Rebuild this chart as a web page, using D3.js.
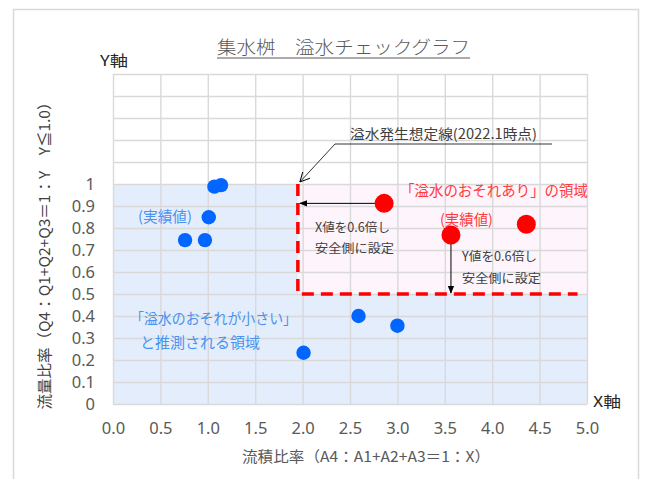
<!DOCTYPE html>
<html><head><meta charset="utf-8">
<script src="https://cdn.jsdelivr.net/npm/d3@7"></script>
<style>
html,body{margin:0;padding:0;background:#fff;}
svg{display:block;}
text{font-family:"Noto Sans CJK JP","Noto Sans",sans-serif;}
</style></head>
<body>
<svg id="c" width="646" height="479"></svg>
<script>
// ---- data ----
const title = "集水桝　溢水チェックグラフ";
const xTitle = "流積比率（A4：A1+A2+A3＝1：X）";
const yTitle = "流量比率（Q4：Q1+Q2+Q3＝1：Y　Y≦1.0）";
const xTicks = [0,0.5,1,1.5,2,2.5,3,3.5,4,4.5,5];
const xTickLabels = ["0.0","0.5","1.0","1.5","2.0","2.5","3.0","3.5","4.0","4.5","5.0"];
const yTicks = [0,0.1,0.2,0.3,0.4,0.5,0.6,0.7,0.8,0.9,1.0,1.1,1.2,1.3,1.4,1.5];
const yTickLabels = ["0","0.1","0.2","0.3","0.4","0.5","0.6","0.7","0.8","0.9","1","","","","",""];
const blueX = [1.07,1.14,1.01,0.76,0.97,2.01,2.59,3.00];
const blueY = [0.988,0.995,0.849,0.745,0.745,0.233,0.40,0.356];
const redX = [2.86,3.565,4.36];
const redY = [0.912,0.768,0.817];
const limitX = [1.95,1.95,4.9];
const limitY = [1.0,0.5,0.5];

// ---- layout ----
const svg = d3.select("#c");
const L=113, R=587, T=74, B=404;
const x = d3.scaleLinear().domain([0,5]).range([L,R]);
const y = d3.scaleLinear().domain([0,1.5]).range([B,T]);

// chart frame
svg.append("rect").attr("x",13.5).attr("y",9.5).attr("width",625).attr("height",480)
  .attr("fill","#fff").attr("stroke","#D9D9D9").attr("stroke-width",1.5);

// regions
svg.append("rect").attr("x",x(0)).attr("y",y(1)).attr("width",x(5)-x(0)).attr("height",y(0)-y(1))
  .attr("fill","#E3EDFC");
svg.append("rect").attr("x",x(limitX[0])).attr("y",y(1)).attr("width",x(5)-x(limitX[0])).attr("height",y(0.5)-y(1))
  .attr("fill","#FDF4FC");

// gridlines
const gx = svg.append("g").attr("transform",`translate(0,${B})`)
  .call(d3.axisBottom(x).tickValues(xTicks).tickSize(-(B-T)).tickFormat((d,i)=>xTickLabels[i]).tickPadding(18));
const gy = svg.append("g").attr("transform",`translate(${L},0)`)
  .call(d3.axisLeft(y).tickValues(yTicks).tickSize(-(R-L)).tickFormat((d,i)=>yTickLabels[i]).tickPadding(18));
[gx,gy].forEach(g=>{
  g.select(".domain").remove();
  g.selectAll(".tick line").attr("stroke","#D9D9D9").attr("stroke-width",1.4);
  g.selectAll(".tick text").attr("fill","#595959").style("font-size","16.5px")
   .style("font-family","'Noto Sans',sans-serif");
});
gx.selectAll(".tick text").attr("dy","0.71em").attr("y",18);
gy.selectAll(".tick text").attr("x",-18).attr("dy","0.34em");

// threshold dashed line
svg.append("path")
  .attr("d", d3.line().x((d,i)=>x(limitX[i])).y((d,i)=>y(limitY[i]))(limitX))
  .attr("fill","none").attr("stroke","#FF0000").attr("stroke-width",3.5).attr("stroke-dasharray","12,7");

// arrow markers
const defs = svg.append("defs");
defs.append("marker").attr("id","ah").attr("viewBox","0 0 10 10").attr("refX",9).attr("refY",5)
  .attr("markerWidth",8).attr("markerHeight",8).attr("orient","auto-start-reverse").attr("markerUnits","userSpaceOnUse")
  .append("path").attr("d","M0,1 L10,5 L0,9 Z").attr("fill","#000");
defs.append("marker").attr("id","open").attr("viewBox","0 0 10 10").attr("refX",10).attr("refY",5)
  .attr("markerWidth",10).attr("markerHeight",10).attr("orient","auto").attr("markerUnits","userSpaceOnUse")
  .append("path").attr("d","M0,0 L10,5 L0,10").attr("fill","none").attr("stroke","#000").attr("stroke-width",1);

// double arrows
svg.append("line").attr("x1",x(limitX[0])+2).attr("y1",y(redY[0])).attr("x2",x(redX[0])).attr("y2",y(redY[0]))
  .attr("stroke","#000").attr("stroke-width",1).attr("marker-start","url(#ah)").attr("marker-end","url(#ah)");
svg.append("line").attr("x1",x(redX[1])).attr("y1",y(redY[1])).attr("x2",x(redX[1])).attr("y2",y(0.5)-1)
  .attr("stroke","#000").attr("stroke-width",1).attr("marker-start","url(#ah)").attr("marker-end","url(#ah)");

// leader line for threshold label
svg.append("polyline").attr("points",`552,144 335,144 ${x(limitX[0])+2},${y(1)-2}`)
  .attr("fill","none").attr("stroke","#000").attr("stroke-width",0.8).attr("marker-end","url(#open)");

// points
svg.append("g").selectAll("circle").data(blueX).join("circle")
  .attr("cx",(d)=>x(d)).attr("cy",(d,i)=>y(blueY[i])).attr("r",7.2).attr("fill","#0066FF");
svg.append("g").selectAll("circle").data(redX).join("circle")
  .attr("cx",(d)=>x(d)).attr("cy",(d,i)=>y(redY[i])).attr("r",9.5).attr("fill","#FF0000");

// texts
function txt(s,xx,yy,size,fill,len,anchor){
  const t = svg.append("text").attr("x",xx).attr("y",yy).text(s).style("font-size",size+"px").attr("fill",fill);
  if(len) t.attr("textLength",len).attr("lengthAdjust","spacingAndGlyphs");
  if(anchor) t.attr("text-anchor",anchor);
  return t;
}
txt(title,217,54,18,"#595959",253).style("font-weight","300");
svg.append("line").attr("x1",217).attr("x2",470).attr("y1",58).attr("y2",58).attr("stroke","#595959").attr("stroke-width",1);
txt("Y軸",100,66,15,"#262626",28);
txt("X軸",593,407,15,"#262626",28);
txt(xTitle,242,462,15,"#595959",248);
svg.append("text").attr("transform","translate(50,252) rotate(-90)").attr("text-anchor","middle")
  .text(yTitle).style("font-size","15px").attr("fill","#404040").attr("textLength",315).attr("lengthAdjust","spacingAndGlyphs");

txt("溢水発生想定線(2022.1時点)",350,139,14,"#404040",187);
txt("X値を0.6倍し",315,232,12.5,"#404040",75);
txt("安全側に設定",315,253,12.5,"#404040",79);
txt("Y値を0.6倍し",462,261,12.5,"#404040",75);
txt("安全側に設定",462,283,12.5,"#404040",79);

txt("「溢水のおそれあり」の領域",400,196,14.5,"#FF3B3B",188);
txt("(実績値)",440,225,14.5,"#FF3B3B",53);
txt("(実績値)",138,222,14.5,"#4A92F0",54);
txt("「溢水のおそれが小さい」",130,324,14.5,"#4A92F0",167);
txt("と推測される領域",140,348,14.5,"#4A92F0",120);
</script>
</body></html>
